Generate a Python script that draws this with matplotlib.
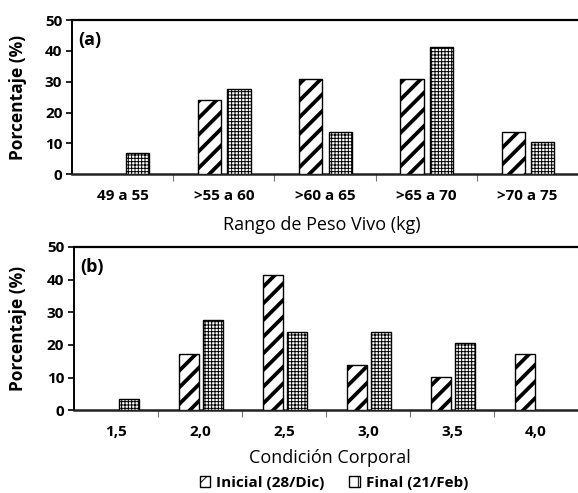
import numpy as np
import matplotlib
matplotlib.use("Agg")
import matplotlib.pyplot as plt
from matplotlib.patches import Patch

# ---- data ----
peso_cats = ["49 a 55", ">55 a 60", ">60 a 65", ">65 a 70", ">70 a 75"]
peso_inicial = [0, 24.1, 31.0, 31.0, 13.8]
peso_final = [6.9, 27.6, 13.8, 41.4, 10.3]

cc_cats = ["1,5", "2,0", "2,5", "3,0", "3,5", "4,0"]
cc_inicial = [0, 17.2, 41.4, 13.8, 10.3, 17.2]
cc_final = [3.4, 27.6, 24.1, 24.1, 20.7, 0]

yticks = [0, 10, 20, 30, 40, 50]
serie_labels = ["Inicial (28/Dic)", "Final (21/Feb)"]

plt.rcParams["font.family"] = ["Open Sans", "DejaVu Sans"]
plt.rcParams["hatch.color"] = "black"

fig = plt.figure(figsize=(5.78, 4.93), dpi=100)


def draw_panel(ax, cats, inicial, final, width, off_i, off_f, tag):
    x = np.arange(len(cats))
    plt.rcParams["hatch.linewidth"] = 2.7
    for xi, v in zip(x, inicial):
        if v > 0:
            ax.bar(xi + off_i, v, width, color="white", edgecolor="black",
                   hatch="//", linewidth=1.0, zorder=3)
    plt.rcParams["hatch.linewidth"] = 0.7
    for xi, v in zip(x, final):
        if v > 0:
            ax.bar(xi + off_f, v, width, color="white", edgecolor="black",
                   hatch="+++++", linewidth=1.0, zorder=3)
    ax.set_xlim(-0.5, len(cats) - 0.5)
    ax.set_ylim(0, 50)
    ax.set_yticks(yticks)
    ax.set_yticklabels([str(t) for t in yticks], fontweight="bold", fontsize=11)
    # tick marks between categories, labels in the middle
    ax.set_xticks(np.arange(1, len(cats)) - 0.5)
    ax.set_xticklabels([])
    ax.set_xticks(x, minor=True)
    ax.set_xticklabels(cats, minor=True, fontweight="bold", fontsize=11)
    ax.tick_params(axis="x", which="minor", length=0, pad=11)
    ax.tick_params(axis="x", which="major", length=5, width=0.8, color="#777777")
    ax.tick_params(axis="y", length=4, width=1.2, pad=3)
    ax.spines["right"].set_visible(False)
    ax.spines["top"].set_linewidth(1.6)
    ax.spines["left"].set_linewidth(1.4)
    ax.spines["bottom"].set_linewidth(1.8)
    ax.spines["bottom"].set_color("#222222")
    ax.text(0.012, 0.93, tag, transform=ax.transAxes, fontweight="bold",
            fontsize=13, va="top", ha="left")


ax1 = fig.add_axes([0.1246, 0.647, 0.8754, 0.312])
draw_panel(ax1, peso_cats, peso_inicial, peso_final, 0.23, -0.14, 0.15, "(a)")

ax2 = fig.add_axes([0.128, 0.168, 0.872, 0.331])
draw_panel(ax2, cc_cats, cc_inicial, cc_final, 0.23, -0.13, 0.155, "(b)")

# axis titles
for ax in (ax1, ax2):
    pos = ax.get_position()
    fig.text(18 / 578, (pos.y0 + pos.y1) / 2, "Porcentaje (%)", rotation=90,
             ha="center", va="center", fontweight="bold", fontsize=12.5)
fig.text(322 / 578, 1 - 225 / 493, "Rango de Peso Vivo (kg)",
         ha="center", va="center", fontsize=13)
fig.text(330 / 578, 1 - 458 / 493, "Condición Corporal",
         ha="center", va="center", fontsize=13)

handles = [
    Patch(facecolor="white", edgecolor="black", hatch="//", label=serie_labels[0]),
    Patch(facecolor="white", edgecolor="black", hatch="+", label=serie_labels[1]),
]
fig.legend(handles=handles, loc="center", bbox_to_anchor=(334 / 578, 1 - 483 / 493),
           ncol=2, frameon=False, prop={"weight": "bold", "size": 11},
           handlelength=0.7, handleheight=0.7, handletextpad=0.4,
           columnspacing=1.6, borderpad=0.1)

fig.savefig("out.png", dpi=100)
